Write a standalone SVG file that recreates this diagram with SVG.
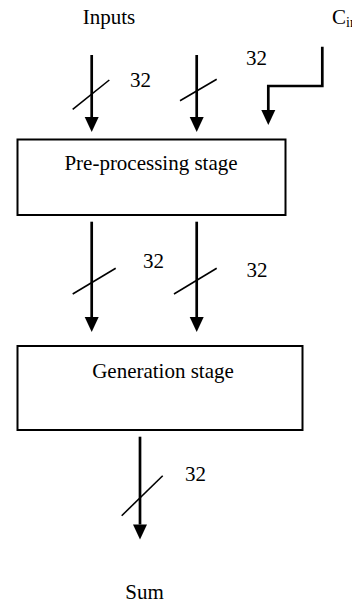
<svg xmlns="http://www.w3.org/2000/svg" width="352" height="603" viewBox="0 0 352 603">
<style>
text{font-family:"Liberation Serif","Times New Roman",serif;font-size:21px;fill:#000}
.box{fill:#fff;stroke:#000;stroke-width:2}
.wire{fill:none;stroke:#000;stroke-width:2.7}
.slash{fill:none;stroke:#000;stroke-width:1.6}
</style>
<defs>
<marker id="ah" markerUnits="userSpaceOnUse" markerWidth="16" markerHeight="15" refX="0" refY="7" orient="auto" overflow="visible">
<path d="M0,0 L15,7 L0,14 z" fill="#000"/>
</marker>
</defs>
<g id="labels">
<text x="109" y="24" text-anchor="middle">Inputs</text>
<text x="332" y="24">C<tspan font-size="14" dy="3">in</tspan></text>
<text x="144.5" y="599" text-anchor="middle">Sum</text>
</g>
<g id="preprocessing">
<rect class="box" x="17.5" y="139.5" width="268" height="75.5"/>
<text x="151" y="170" text-anchor="middle">Pre-processing stage</text>
</g>
<g id="generation">
<rect class="box" x="17.5" y="346" width="285" height="84"/>
<text x="163" y="378" text-anchor="middle">Generation stage</text>
</g>
<g id="connectors">
<line class="wire" x1="91.7" y1="55" x2="91.7" y2="117" marker-end="url(#ah)"/>
<line class="slash" x1="72.7" y1="109.3" x2="109.3" y2="80"/>
<text x="130" y="87">32</text>
<line class="wire" x1="196.7" y1="55" x2="196.7" y2="117" marker-end="url(#ah)"/>
<line class="slash" x1="180" y1="100.7" x2="216.7" y2="79.3"/>
<text x="246" y="65">32</text>
<polyline class="wire" points="322.3,46.7 322.3,86 268.3,86 268.3,110" marker-end="url(#ah)"/>
<line class="wire" x1="91.7" y1="221.7" x2="91.7" y2="317" marker-end="url(#ah)"/>
<line class="slash" x1="72.7" y1="294" x2="115.7" y2="268.3"/>
<text x="143" y="268">32</text>
<line class="wire" x1="196.7" y1="221.7" x2="196.7" y2="317" marker-end="url(#ah)"/>
<line class="slash" x1="174" y1="294" x2="216.7" y2="268.3"/>
<text x="246.5" y="276.5">32</text>
<line class="wire" x1="140" y1="436.7" x2="140" y2="524.5" marker-end="url(#ah)"/>
<line class="slash" x1="121.7" y1="515.7" x2="162.7" y2="475.7"/>
<text x="185" y="480.5">32</text>
</g>
</svg>
